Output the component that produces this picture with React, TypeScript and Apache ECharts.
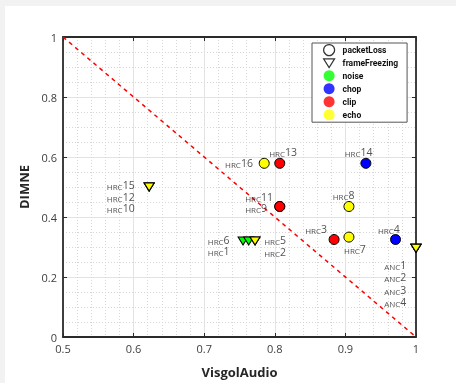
import React, { useEffect, useRef } from "react";
import * as echarts from "echarts";

// ---- data ----
const xTicks = [0.5, 0.6, 0.7, 0.8, 0.9, 1];
const yTicks = [0, 0.2, 0.4, 0.6, 0.8, 1];

// packetLoss (circles) by condition
const plEcho = [[0.785, 0.579], [0.905, 0.435], [0.905, 0.333]];
const plClip = [[0.807, 0.579], [0.807, 0.435], [0.807, 0.435], [0.884, 0.325]];
const plChop = [[0.929, 0.579], [0.971, 0.325]];

// frameFreezing (down triangles) by condition
const ffNoise = [[0.755, 0.32], [0.763, 0.32], [1, 0.296]];
const ffChop = [[1, 0.296]];
const ffClip = [[1, 0.296]];
const ffEcho = [[0.622, 0.5], [0.622, 0.5], [0.622, 0.5], [0.772, 0.32], [0.772, 0.32], [1, 0.296]];

// reference line
const diagLine = [[0.5, 1], [1, 0]];

// point annotations
const annTexts = ["HRC13", "HRC16", "HRC11", "HRC9", "HRC3", "HRC8", "HRC7", "HRC14", "HRC4",
  "ANC1", "ANC2", "ANC3", "ANC4", "HRC15", "HRC12", "HRC10", "HRC6", "HRC1", "HRC5", "HRC2"];
const annX = [0.792, 0.769, 0.758, 0.758, 0.843, 0.882, 0.898, 0.899, 0.946,
  0.955, 0.955, 0.955, 0.955, 0.562, 0.562, 0.562, 0.705, 0.705, 0.785, 0.785];
const annY = [0.614, 0.578, 0.463, 0.427, 0.358, 0.470, 0.290, 0.614, 0.358,
  0.237, 0.196, 0.153, 0.115, 0.502, 0.464, 0.428, 0.319, 0.282, 0.319, 0.279];
const annAlign = ["left", "right", "left", "left", "left", "left", "left", "left", "left",
  "left", "left", "left", "left", "left", "left", "left", "left", "left", "left", "left"];

const legendNames = ["packetLoss", "frameFreezing", "noise", "chop", "clip", "echo"];

const COLORS: Record<string, string> = {
  noise: "#00ff00",
  chop: "#0000ff",
  clip: "#ff0000",
  echo: "#ffff00",
};

const TRI = "path://M0,0L10,0L5,8Z";
const FONT = "'Open Sans', 'Noto Sans', sans-serif";
const LABEL_COLOR = "#262626";

function fmt(v: number) {
  return String(Math.round(v * 10) / 10);
}

export default function App() {
  const ref = useRef<HTMLDivElement>(null);
  useEffect(() => {
    if (!ref.current) return;
    const chart = echarts.init(ref.current, undefined, { renderer: "svg" });

    const circleSeries = (name: string, data: number[][], color: string) => ({
      type: "scatter",
      name,
      data,
      symbol: "circle",
      symbolSize: 10,
      itemStyle: { color, borderColor: "#000", borderWidth: 1, opacity: 1 },
      z: 4,
      silent: true,
    });
    const triSeries = (name: string, data: number[][], color: string) => ({
      type: "scatter",
      name,
      data,
      symbol: TRI,
      symbolSize: [10, 8],
      symbolKeepAspect: false,
      itemStyle: { color, borderColor: "#000", borderWidth: 1, opacity: 1 },
      z: 5,
      silent: true,
    });

    const annData = annTexts.map((t, i) => {
      const m = t.match(/^([A-Z]+)(\d+)$/);
      const pre = m ? m[1] : t;
      const num = m ? m[2] : "";
      return {
        value: [annX[i], annY[i]],
        label: {
          align: annAlign[i],
          formatter: `{s|${pre}}{n|${num}}`,
        },
      };
    });

    const legendData = legendNames.map((n) => {
      if (n === "packetLoss")
        return { name: n, icon: "circle", itemStyle: { color: "#fff", borderColor: "#000", borderWidth: 1.2 } };
      if (n === "frameFreezing")
        return { name: n, icon: TRI, itemStyle: { color: "#fff", borderColor: "#000", borderWidth: 1.2 } };
      return { name: n, icon: "circle", itemStyle: { color: COLORS[n], borderWidth: 0 } };
    });

    const axisCommonX = { type: "value", min: 0.5, max: 1, interval: 0.1 };
    const axisCommonY = { type: "value", min: 0, max: 1, interval: 0.2 };
    const axisLine = { show: true, onZero: false, lineStyle: { color: "#2b2b2b", width: 1.8 } };
    const axisTick = { show: true, inside: true, length: 4, lineStyle: { color: "#2b2b2b", width: 1 } };

    const tokenBase = {
      color: LABEL_COLOR,
      fontFamily: FONT,
      verticalAlign: "bottom",
      lineHeight: 9,
      textBorderWidth: 0,
      textBorderColor: "transparent",
      textShadowBlur: 0,
    };

    chart.setOption({
      animation: false,
      backgroundColor: "transparent",
      textStyle: { fontFamily: FONT },
      grid: { left: 63, top: 37, width: 353, height: 305.5, containLabel: false },
      legend: {
        orient: "vertical",
        left: 312,
        top: 43,
        padding: [1, 9, 2, 11],
        itemWidth: 11,
        itemHeight: 11,
        itemGap: 2,
        borderColor: "#555",
        borderWidth: 1,
        backgroundColor: "#fff",
        selectedMode: false,
        textStyle: { fontSize: 8.5, fontWeight: "bold", color: "#111", fontFamily: "Roboto, sans-serif", padding: [0, 0, 0, 3] },
        data: legendData,
        z: 10,
      },
      xAxis: [
        {
          ...axisCommonX,
          position: "bottom",
          name: "VisgolAudio",
          nameLocation: "middle",
          nameGap: 28,
          nameTextStyle: { fontSize: 13, fontWeight: "bold", color: "#262626", fontFamily: FONT },
          axisLine,
          axisTick,
          axisLabel: { formatter: fmt, fontSize: 11, color: "#404040", margin: 6, fontFamily: FONT },
          splitLine: { show: true, lineStyle: { color: "#e3e3e3", width: 1 } },
          minorTick: { show: false, splitNumber: 5 },
          minorSplitLine: { show: true, lineStyle: { color: "#d6d6d6", width: 1, type: [1, 2] } },
        },
        {
          ...axisCommonX,
          position: "top",
          axisLine,
          axisTick,
          axisLabel: { show: false },
          splitLine: { show: false },
        },
      ],
      yAxis: [
        {
          ...axisCommonY,
          position: "left",
          name: "DIMNE",
          nameLocation: "middle",
          nameGap: 20,
          nameTextStyle: { fontSize: 13, fontWeight: "bold", color: "#262626", fontFamily: FONT },
          axisLine,
          axisTick,
          axisLabel: { formatter: fmt, fontSize: 11, color: "#404040", margin: 6, fontFamily: FONT },
          splitLine: { show: true, lineStyle: { color: "#e3e3e3", width: 1 } },
          minorTick: { show: false, splitNumber: 4 },
          minorSplitLine: { show: true, lineStyle: { color: "#d6d6d6", width: 1, type: [1, 2] } },
        },
        {
          ...axisCommonY,
          position: "right",
          axisLine,
          axisTick,
          axisLabel: { show: false },
          splitLine: { show: false },
        },
      ],
      series: [
        {
          type: "line",
          name: "diag",
          data: diagLine,
          symbol: "none",
          lineStyle: { color: "#ff0000", width: 1.5, type: [4, 4] },
          z: 2,
          silent: true,
        },
        // legend-only series
        { type: "scatter", name: "packetLoss", data: [] },
        { type: "scatter", name: "frameFreezing", data: [] },
        { type: "scatter", name: "noise", data: [] },
        { type: "scatter", name: "chop", data: [] },
        { type: "scatter", name: "clip", data: [] },
        { type: "scatter", name: "echo", data: [] },
        circleSeries("pl-echo", plEcho, COLORS.echo),
        circleSeries("pl-clip", plClip, COLORS.clip),
        circleSeries("pl-chop", plChop, COLORS.chop),
        triSeries("ff-noise", ffNoise, COLORS.noise),
        triSeries("ff-chop", ffChop, COLORS.chop),
        triSeries("ff-clip", ffClip, COLORS.clip),
        triSeries("ff-echo", ffEcho, COLORS.echo),
        {
          type: "scatter",
          name: "annotations",
          data: annData,
          symbolSize: 0,
          silent: true,
          z: 6,
          itemStyle: { color: LABEL_COLOR },
          label: {
            show: true,
            position: [0, 0],
            verticalAlign: "middle",
            color: LABEL_COLOR,
            textBorderWidth: 0,
            textBorderColor: "transparent",
            fontFamily: FONT,
            rich: {
              s: { ...tokenBase, fontSize: 8 },
              n: { ...tokenBase, fontSize: 10.5 },
            },
          },
        },
      ],
    });
    return () => chart.dispose();
  }, []);

  return (
    <div style={{ position: "fixed", left: 0, top: 0, width: 456, height: 383, background: "#f2f2f2" }}>
      <div style={{ position: "absolute", left: 5, top: 6, right: 0, bottom: 0, background: "#fff" }} />
      <div
        ref={ref}
        style={{ position: "absolute", left: 0, top: 0, width: 456, height: 383, willChange: "transform" }}
      />
    </div>
  );
}
